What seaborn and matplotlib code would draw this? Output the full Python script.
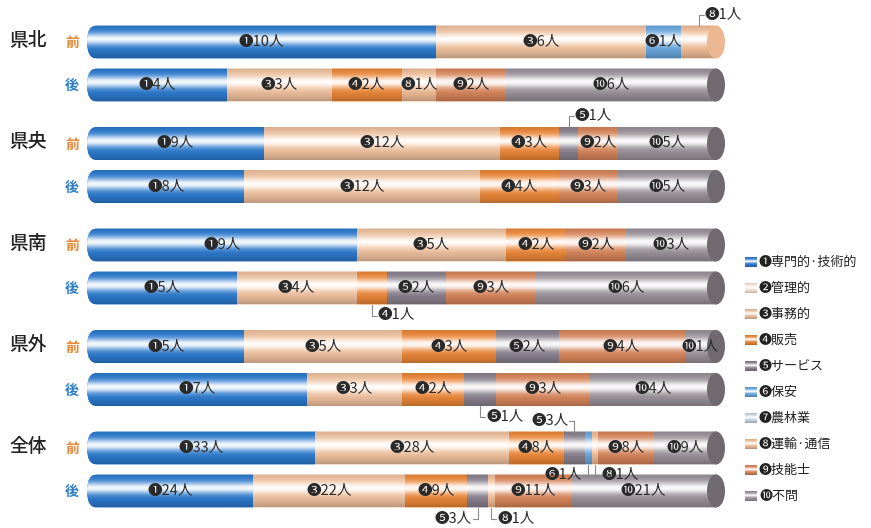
import numpy as np
import pandas as pd
import matplotlib
matplotlib.use("Agg")
import matplotlib.pyplot as plt
import matplotlib.colors as mcolors
from matplotlib.patches import FancyBboxPatch, Ellipse
import seaborn as sns

# ---- data ----
regions = ["県北", "県央", "県南", "県外", "全体"]
periods = ["前", "後"]
categories = ["専門的·技術的", "管理的", "事務的", "販売", "サービス",
              "保安", "農林業", "運輸·通信", "技能士", "不問"]
marks = ["❶", "❷", "❸", "❹", "❺", "❻", "❼", "❽", "❾", "❿"]

kenpoku_mae = [10, 0, 6, 0, 0, 1, 0, 1, 0, 0]
kenpoku_go = [4, 0, 3, 2, 0, 0, 0, 1, 2, 6]
kenou_mae = [9, 0, 12, 3, 1, 0, 0, 0, 2, 5]
kenou_go = [8, 0, 12, 4, 0, 0, 0, 0, 3, 5]
kennan_mae = [9, 0, 5, 2, 0, 0, 0, 0, 2, 3]
kennan_go = [5, 0, 4, 1, 2, 0, 0, 0, 3, 6]
kengai_mae = [5, 0, 5, 3, 2, 0, 0, 0, 4, 1]
kengai_go = [7, 0, 3, 2, 1, 0, 0, 0, 3, 4]
zentai_mae = [33, 0, 28, 8, 3, 1, 0, 1, 8, 9]
zentai_go = [24, 0, 22, 9, 3, 0, 0, 1, 11, 21]

# segments labelled outside the bar: (row, category, up/down, left/right)
callouts = [(0, 7, "up", "right"), (2, 4, "up", "right"), (5, 3, "down", "right"),
            (7, 4, "down", "right"), (8, 4, "up", "left"), (8, 5, "down", "left"),
            (8, 7, "down", "right"), (9, 4, "down", "left"), (9, 7, "down", "right")]

rows = [kenpoku_mae, kenpoku_go, kenou_mae, kenou_go, kennan_mae,
        kennan_go, kengai_mae, kengai_go, zentai_mae, zentai_go]
df = pd.DataFrame(rows, columns=categories)
df.index = pd.MultiIndex.from_product([regions, periods])
shares = df.div(df.sum(axis=1), axis=0)

# ---- style ----
colors = ["#2b7bd0", "#f7e6d8", "#f1c3a0", "#ee8838", "#8a828f",
          "#6aa8e0", "#c9d6e3", "#f2be98", "#d9865a", "#9b939b"]
period_colors = {"前": "#e8893a", "後": "#2f7fc9"}

sns.set_theme(style="white")
plt.rcParams["font.family"] = ["Noto Sans CJK JP", "DejaVu Sans"]

W_PX, H_PX = 871, 528
X0, UNIT = 87, 629          # pixel where a bar starts, pixels per 100 %
BAR_H = 33

fig = plt.figure(figsize=(W_PX / 100, H_PX / 100), dpi=100)
ax = fig.add_axes([0, 0, 1, 1])


def px2x(px):
    return (px - X0) / UNIT


def gradient(rgb, n=60):
    t = np.linspace(0, 1, n)
    w = 0.95 * np.exp(-((t - 0.42) / 0.18) ** 2)
    k = 1 - 0.22 * np.clip(np.abs(t - 0.42) / 0.58, 0, 1) ** 2.5
    img = (np.array(rgb)[None, :] * (1 - w[:, None]) + w[:, None]) * k[:, None]
    return np.clip(img, 0, 1)[:, None, :]


row_y = [42 + g * 101.5 + k * 43 for g in range(len(regions)) for k in range(len(periods))]
rx = 10 / UNIT
callout_set = {(r, c) for r, c, _, _ in callouts}

for r, (key, srow) in enumerate(shares.iterrows()):
    y = row_y[r]
    outline = FancyBboxPatch((0, y - BAR_H / 2), 1 + rx, BAR_H,
                             boxstyle=f"round,pad=0,rounding_size={rx}",
                             mutation_aspect=(BAR_H / 2) / rx,
                             transform=ax.transData, facecolor="none", edgecolor="none")
    ax.add_patch(outline)
    left = 0.0
    last_c = 0
    for c, cat in enumerate(categories):
        s = srow[cat]
        if s <= 0:
            continue
        rgb = mcolors.to_rgb(colors[c])
        rect = ax.barh(y, s, left=left, height=BAR_H, color=colors[c], lw=0, zorder=1)[0]
        rect.set_clip_path(outline)
        im = ax.imshow(gradient(rgb), extent=(left, left + s, y + BAR_H / 2, y - BAR_H / 2),
                       aspect="auto", interpolation="bilinear", zorder=2)
        im.set_clip_path(outline)
        if (r, c) not in callout_set:
            ax.text(left + s / 2, y, f"{marks[c]}{df.iloc[r, c]}人", ha="center", va="center",
                    fontsize=10.5, color="#2a2a2a", zorder=5)
        left += s
        last_c = c
    base = np.array(mcolors.to_rgb(colors[last_c]))
    lum = base @ np.array([0.3, 0.59, 0.11])
    cap = base * (0.72 if lum < 0.7 else 0.97)
    ax.add_patch(Ellipse((1, y), width=18 / UNIT, height=BAR_H, color=cap, lw=0, zorder=3))

# callout labels with leader lines
for r, c, vert, side in callouts:
    y = row_y[r]
    start = shares.iloc[r, :c].sum()
    xc = start + shares.iloc[r, c] / 2
    edge = y - BAR_H / 2 if vert == "up" else y + BAR_H / 2
    ty = edge - 11 if vert == "up" else edge + 11
    dx = 5 / UNIT if side == "right" else -5 / UNIT
    ax.plot([xc, xc, xc + dx], [edge, ty, ty], color="#8a8a8a", lw=0.8, zorder=4)
    ax.text(xc + dx * 1.2, ty, f"{marks[c]}{df.iloc[r, c]}人",
            ha="left" if side == "right" else "right", va="center",
            fontsize=10.5, color="#2a2a2a", zorder=5)

# region and period labels
for g, reg in enumerate(regions):
    ax.text(px2x(9), row_y[2 * g] - 2, reg, ha="left", va="center", fontsize=13.5,
            fontweight="medium", color="#222222")
    for k, per in enumerate(periods):
        ax.text(px2x(72), row_y[2 * g + k] + 1, per, ha="center", va="center",
                fontsize=10, fontweight="bold", color=period_colors[per])

# legend
for i, cat in enumerate(categories):
    ly = 262 + 26 * i
    ax.imshow(gradient(mcolors.to_rgb(colors[i]), 12),
              extent=(px2x(745), px2x(757), ly + 5, ly - 5),
              aspect="auto", interpolation="bilinear", zorder=2)
    ax.text(px2x(759), ly, f"{marks[i]}{cat}", ha="left", va="center",
            fontsize=9.4, color="#222222")

ax.set_xlim(px2x(0), px2x(W_PX))
ax.set_ylim(H_PX, 0)
ax.axis("off")
fig.savefig("out.png", dpi=100)
